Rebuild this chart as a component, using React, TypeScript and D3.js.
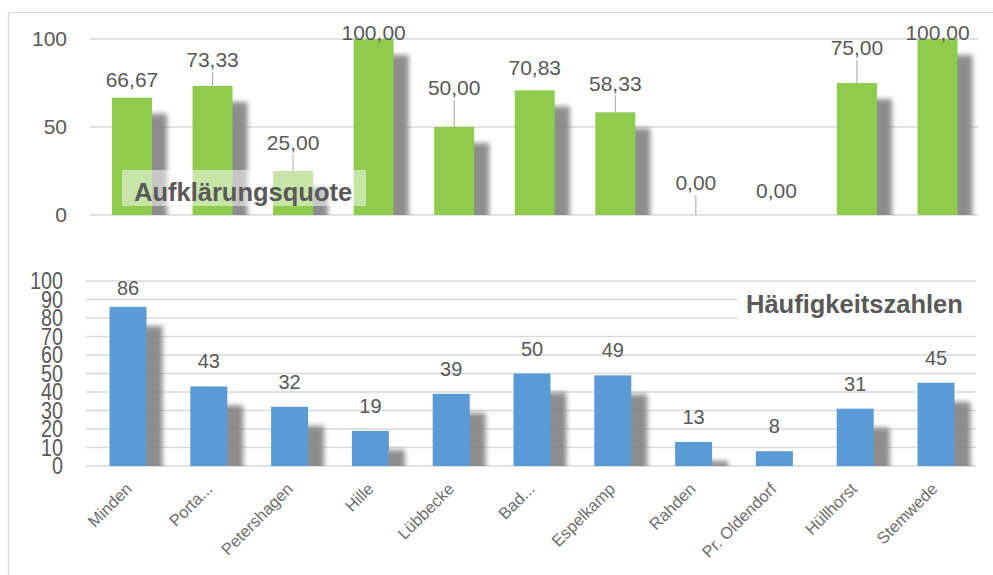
import React from "react";
import * as d3 from "d3";

const categories = ["Minden", "Porta...", "Petershagen", "Hille", "Lübbecke", "Bad...", "Espelkamp", "Rahden", "Pr. Oldendorf", "Hüllhorst", "Stemwede"];
const aufklaerungsquote = [66.67, 73.33, 25.0, 100.0, 50.0, 70.83, 58.33, 0.0, 0.0, 75.0, 100.0];
const haeufigkeitszahlen = [86, 43, 32, 19, 39, 50, 49, 13, 8, 31, 45];
const topTicks = [0, 50, 100];
const bottomTicks = [0, 10, 20, 30, 40, 50, 60, 70, 80, 90, 100];
const topTitle = "Aufklärungsquote";
const bottomTitle = "Häufigkeitszahlen";

// layout: how far (px) each top data label sits above its bar (Excel-moved labels)
const topLabelLift = [18, 26, 28, 6, 39, 23, 29, 32, 24, 35, 6];

const W = 993;
const H = 575;
const GREEN = "#8fcb4c";
const BLUE = "#5b9bd5";
const GRID = "#d9d9d9";
const TEXT = "#595959";
const FONT = "'Liberation Sans', Arial, sans-serif";

const fmt = (v: number) => v.toFixed(2).replace(".", ",");

export default function App() {
  const xTop = d3.scaleBand<string>().domain(categories).range([91.7, 977.8]).paddingInner(0.5).paddingOuter(0.25);
  const yTop = d3.scaleLinear().domain([0, 100]).range([215, 39]);
  const xBot = d3.scaleBand<string>().domain(categories).range([87.6, 976.4]).paddingInner(0.54).paddingOuter(0.27);
  const yBot = d3.scaleLinear().domain([0, 100]).range([466, 281]);

  const topBW = 40;
  const botBW = 37;
  const cTop = (c: string) => (xTop(c) as number) + xTop.bandwidth() / 2;
  const cBot = (c: string) => (xBot(c) as number) + xBot.bandwidth() / 2;

  return (
    <div style={{ position: "absolute", left: 0, top: 0 }}>
      <svg width={W} height={H} style={{ display: "block", background: "#fff" }}>
        <defs>
          <filter id="blur" x="-50%" y="-20%" width="200%" height="140%">
            <feGaussianBlur stdDeviation="2.4" />
          </filter>
          <clipPath id="clipTop">
            <rect x={0} y={0} width={W} height={yTop(0)} />
          </clipPath>
          <clipPath id="clipBot">
            <rect x={0} y={240} width={W} height={yBot(0) - 240} />
          </clipPath>
        </defs>

        {/* frame */}
        <path d={`M8.5,${H} L8.5,12.5 L${W},12.5`} fill="none" stroke={GRID} strokeWidth={1.2} />

        {/* ===== TOP CHART ===== */}
        <g>
          {topTicks.map((t) => (
            <g key={t}>
              <line x1={90} x2={978} y1={yTop(t)} y2={yTop(t)} stroke={GRID} strokeWidth={1.5} />
              <text x={67} y={yTop(t)} dy="0.35em" textAnchor="end" fontFamily={FONT} fontSize={21} fill={TEXT}>
                {t}
              </text>
            </g>
          ))}
          <g clipPath="url(#clipTop)">
            {aufklaerungsquote.map((v, i) => {
              const c = categories[i];
              const y = yTop(v);
              return (
                <rect key={"s" + i} x={cTop(c) - topBW / 2 + 15} y={y + 16} width={topBW} height={Math.max(0, yTop(0) - y)} fill="#7a7a7a" opacity={0.85} filter="url(#blur)" />
              );
            })}
          </g>
          {aufklaerungsquote.map((v, i) => {
            const c = categories[i];
            const y = yTop(v);
            return <rect key={"b" + i} x={cTop(c) - topBW / 2} y={y} width={topBW} height={yTop(0) - y} fill={GREEN} />;
          })}
          {aufklaerungsquote.map((v, i) => {
            const c = categories[i];
            const by = yTop(v);
            const ly = by - topLabelLift[i];
            return (
              <g key={"l" + i}>
                {topLabelLift[i] >= 25 && <line x1={cTop(c)} x2={cTop(c)} y1={ly + 12} y2={by} stroke="#a6a6a6" strokeWidth={1} />}
                <text x={cTop(c)} y={ly} dy="0.35em" textAnchor="middle" fontFamily={FONT} fontSize={21} fill={TEXT}>
                  {fmt(v)}
                </text>
              </g>
            );
          })}
          <rect x={122} y={170} width={244} height={36} fill="#ffffff" opacity={0.5} />
          <text x={134} y={201} fontFamily={FONT} fontWeight="bold" fontSize={25.5} fill={TEXT}>
            {topTitle}
          </text>
        </g>

        {/* ===== BOTTOM CHART ===== */}
        <g>
          {bottomTicks.map((t) => (
            <g key={t}>
              <line x1={86} x2={976} y1={yBot(t)} y2={yBot(t)} stroke={GRID} strokeWidth={1.5} />
              <g transform={`translate(63,${yBot(t)}) scale(0.86,1)`}>
                <text x={0} y={0} dy="0.36em" textAnchor="end" fontFamily={FONT} fontSize={23} fill={TEXT}>
                  {t}
                </text>
              </g>
            </g>
          ))}
          <rect x={737} y={288} width={240} height={38} fill="#ffffff" />
          <text x={746} y={312.5} fontFamily={FONT} fontWeight="bold" fontSize={25.5} fill={TEXT}>
            {bottomTitle}
          </text>
          <g clipPath="url(#clipBot)">
            {haeufigkeitszahlen.map((v, i) => {
              const c = categories[i];
              const y = yBot(v);
              return (
                <rect key={"s" + i} x={cBot(c) - botBW / 2 + 16} y={y + 19} width={botBW} height={Math.max(0, yBot(0) - y)} fill="#7a7a7a" opacity={0.85} filter="url(#blur)" />
              );
            })}
          </g>
          {haeufigkeitszahlen.map((v, i) => {
            const c = categories[i];
            const y = yBot(v);
            return <rect key={"b" + i} x={cBot(c) - botBW / 2} y={y} width={botBW} height={yBot(0) - y} fill={BLUE} />;
          })}
          {haeufigkeitszahlen.map((v, i) => {
            const c = categories[i];
            const ly = Math.max(yBot(v) - 25, yBot(100) + 7);
            return (
              <text key={"l" + i} x={cBot(c)} y={ly} dy="0.35em" textAnchor="middle" fontFamily={FONT} fontSize={20} fill={TEXT}>
                {v}
              </text>
            );
          })}
          {categories.map((c) => (
            <text key={"x" + c} transform={`translate(${cTop(c) + 1},${490}) rotate(-45)`} textAnchor="end" fontFamily={FONT} fontSize={16.5} fill="#6e6e6e">
              {c}
            </text>
          ))}
        </g>
      </svg>
    </div>
  );
}
